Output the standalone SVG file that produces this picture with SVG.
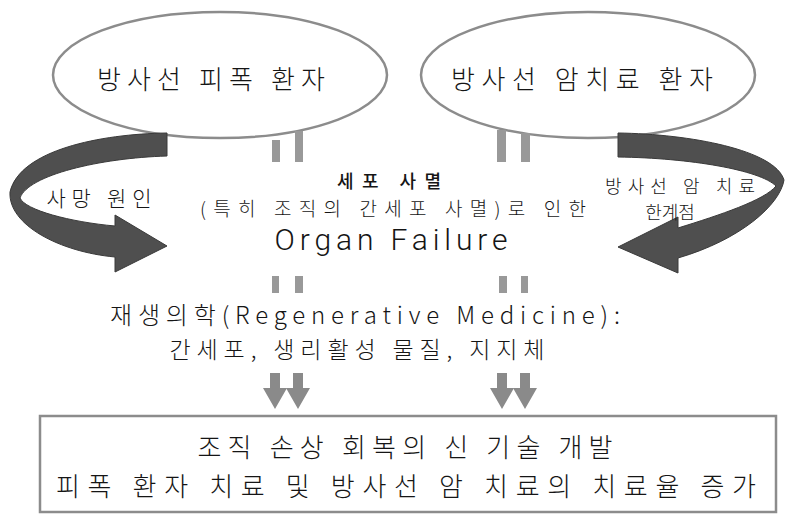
<svg xmlns="http://www.w3.org/2000/svg" width="788" height="515" viewBox="0 0 788 515">
<style>
.t{font-family:"Noto Sans CJK KR","Noto Sans",sans-serif;fill:#151515;font-weight:300}
.lat{font-family:Roboto,"Liberation Sans",sans-serif;fill:#151515;font-weight:300}
.ell{fill:#fff;stroke:#8c8c8c;stroke-width:2.5}
.bar{fill:#999}
.big{fill:#4f4f4f;stroke:#3a3a3a;stroke-width:1}
.dn{fill:#8a8a8a}
.box{fill:#fff;stroke:#8c8c8c;stroke-width:2.5}
</style>
<defs>
<path id="down" d="M-5,-36 H5 V-21 H12 L0,0 L-12,-21 H-5 Z"/>
</defs>
<rect width="788" height="515" fill="#fff"/>

<g id="node-exposed">
<ellipse class="ell" cx="220" cy="75" rx="167" ry="63"/>
<text class="t" x="211" y="89" font-size="26" text-anchor="middle" textLength="228" lengthAdjust="spacing">방사선 피폭 환자</text>
</g>

<g id="node-cancer">
<ellipse class="ell" cx="588" cy="75" rx="167" ry="63"/>
<text class="t" x="582" y="89" font-size="26" text-anchor="middle" textLength="262" lengthAdjust="spacing">방사선 암치료 환자</text>
</g>

<g id="node-organ">
<text class="t" x="389" y="188" font-size="18" style="font-weight:500" text-anchor="middle" textLength="104" lengthAdjust="spacing">세포 사멸</text>
<text class="t" x="393" y="216" font-size="19" text-anchor="middle" textLength="386" lengthAdjust="spacing">(특히 조직의 간세포 사멸)로 인한</text>
<text class="lat" x="391" y="250" font-size="30" text-anchor="middle" textLength="233" lengthAdjust="spacing">Organ Failure</text>
</g>

<g id="node-regen">
<text class="t" x="365" y="324" font-size="24" text-anchor="middle" textLength="510" lengthAdjust="spacing">재생의학(Regenerative Medicine):</text>
<text class="t" x="357" y="358" font-size="23" text-anchor="middle" textLength="375" lengthAdjust="spacing">간세포, 생리활성 물질, 지지체</text>
</g>

<g id="node-result">
<rect class="box" x="40" y="416" width="736" height="96"/>
<text class="t" x="405" y="457" font-size="26" text-anchor="middle" textLength="415" lengthAdjust="spacing">조직 손상 회복의 신 기술 개발</text>
<text class="t" x="406" y="496" font-size="26" text-anchor="middle" textLength="700" lengthAdjust="spacing">피폭 환자 치료 및 방사선 암 치료의 치료율 증가</text>
</g>

<g id="connectors">
<rect class="bar" x="272" y="140" width="8" height="22"/>
<rect class="bar" x="295" y="131" width="8" height="31"/>
<rect class="bar" x="497" y="130" width="9" height="32"/>
<rect class="bar" x="521" y="133" width="9" height="29"/>
<rect class="bar" x="272" y="276" width="7" height="17"/>
<rect class="bar" x="295" y="276" width="8" height="17"/>
<rect class="bar" x="499" y="276" width="8" height="17"/>
<rect class="bar" x="521" y="276" width="7" height="17"/>
<use href="#down" class="dn" x="275" y="409"/>
<use href="#down" class="dn" x="298" y="409"/>
<use href="#down" class="dn" x="502" y="409"/>
<use href="#down" class="dn" x="525" y="409"/>
<path class="big" d="M167,133 C100,134 20,150 10,192 C8,225 60,252 115,257 L115,272 L167,246 L115,215 L115,226 C70,222 25,210 20,198 C28,175 100,158 167,156 Z"/>
<path class="big" d="M618,133 C690,134 775,150 784,180 C780,205 740,240 678,258 L678,273 L618,247 L678,217 L678,228 C720,215 765,200 776,186 C760,170 690,158 618,157 Z"/>
<text class="t" x="99" y="206" font-size="21" text-anchor="middle" textLength="105" lengthAdjust="spacing">사망 원인</text>
<text class="t" x="680" y="193" font-size="18" text-anchor="middle" textLength="150" lengthAdjust="spacing">방사선 암 치료</text>
<text class="t" x="670" y="219" font-size="18" text-anchor="middle">한계점</text>
</g>
</svg>
